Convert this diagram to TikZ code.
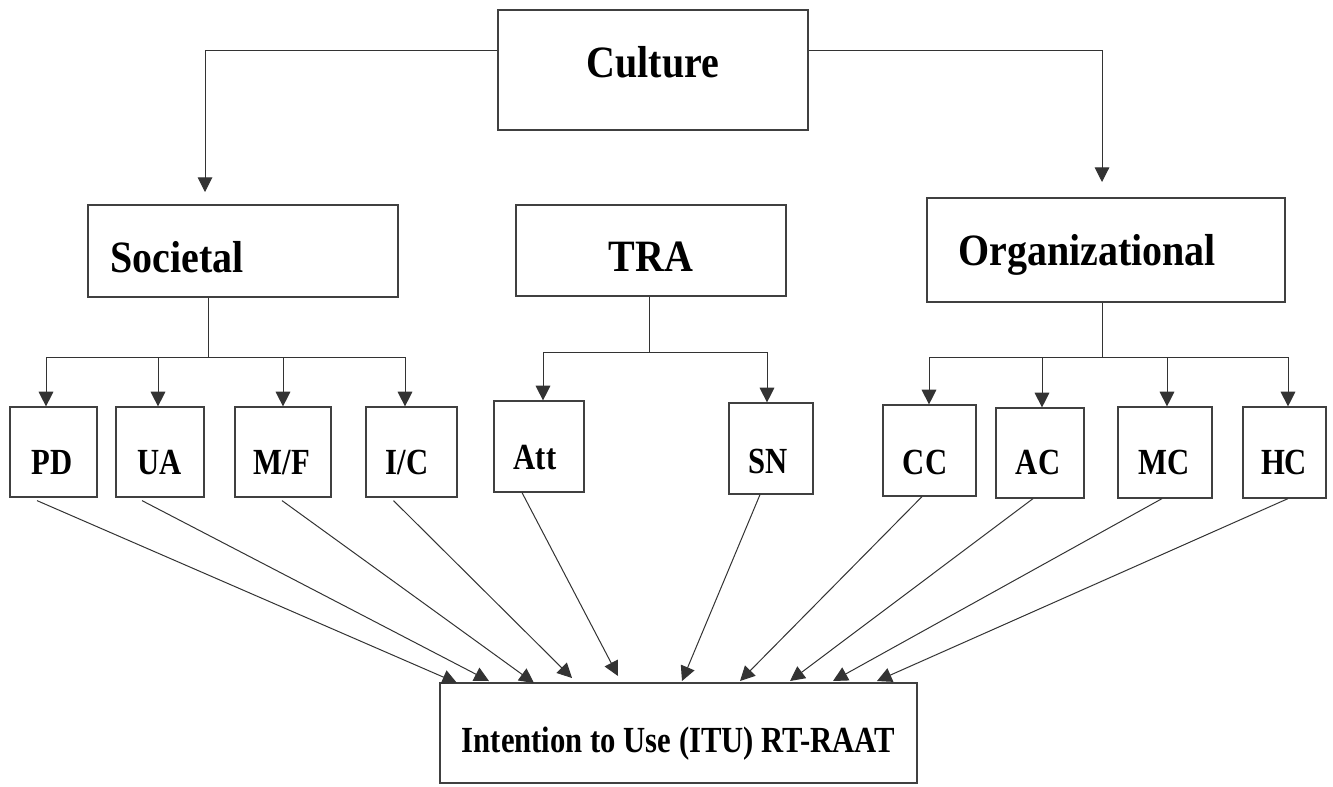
\documentclass[tikz,border=0pt]{standalone}
\usepackage{fontspec}
\setmainfont{Liberation Serif}
\usetikzlibrary{arrows.meta,fit,calc}
\newcommand{\tallbig}[1]{\scalebox{1}[1.12]{#1}}
\newcommand{\tallsmall}[1]{\scalebox{1}[1.2]{#1}}
\begin{document}
\begin{tikzpicture}[x=0.75pt,y=-0.75pt,
  framebox/.style={draw=black!75, line width=0.9pt, inner sep=0pt},
  big/.style={font=\fontsize{30}{36}\selectfont\bfseries, inner sep=0pt},
  small/.style={font=\fontsize{23}{28}\selectfont\bfseries, inner sep=0pt, anchor=base},
  link/.style={draw=black!80, line width=0.75pt},
  arr/.style={link, -{Triangle[length=11pt,width=11pt]}},
]
\useasboundingbox (0,0) rectangle (1333,786);

% boxes
\node[framebox, fit={(498,10) (808,130)}]    (culture) {};
\node[framebox, fit={(88,205) (398,297)}]    (societal) {};
\node[framebox, fit={(516,205) (786,296)}]   (tra) {};
\node[framebox, fit={(927,198) (1285,302)}]  (org) {};
\node[framebox, fit={(10,407) (97,497)}]     (pd) {};
\node[framebox, fit={(116,407) (204,497)}]   (ua) {};
\node[framebox, fit={(235,407) (331,497)}]   (mf) {};
\node[framebox, fit={(366,407) (457,497)}]   (ic) {};
\node[framebox, fit={(494,401) (584,492)}]   (att) {};
\node[framebox, fit={(729,403) (813,494)}]   (sn) {};
\node[framebox, fit={(883,405) (976,496)}]   (cc) {};
\node[framebox, fit={(996,408) (1084,498)}]  (ac) {};
\node[framebox, fit={(1118,407) (1212,498)}] (mc) {};
\node[framebox, fit={(1243,407) (1326,498)}] (hc) {};
\node[framebox, fit={(440,683) (917,783)}]   (itu) {};

% labels
\node[big, anchor=base] (culture-t) at (653,77) {\tallbig{Culture}};
\node[big, anchor=base west] (societal-t) at (110,272) {\tallbig{Societal}};
\node[big, anchor=base] (tra-t) at (651,271) {\tallbig{TRA}};
\node[big, anchor=base west] (org-t) at (958,265) {\tallbig{Organizational}};
\node[small] (pd-t) at (52,474) {\tallsmall{PD}};
\node[small] (ua-t) at (160,474) {\tallsmall{UA}};
\node[small] (mf-t) at (282,474) {\tallsmall{M/F}};
\node[small] (ic-t) at (407,474) {\tallsmall{I/C}};
\node[small] (att-t) at (535,469) {\tallsmall{Att}};
\node[small] (sn-t) at (768,473) {\tallsmall{SN}};
\node[small] (cc-t) at (925,474) {\tallsmall{CC}};
\node[small] (ac-t) at (1038,474) {\tallsmall{AC}};
\node[small] (mc-t) at (1164,474) {\tallsmall{MC}};
\node[small] (hc-t) at (1284,474) {\tallsmall{HC}};
\node[small] (itu-t) at (678.5,752) {\tallsmall{Intention to Use (ITU) RT-RAAT}};

% culture splits into the two levels
\coordinate (soc-in) at (205,192);
\coordinate (org-in) at (1102,182);
\draw[arr] ($(culture.west)+(0,-20)$) -| (soc-in);
\draw[arr] ($(culture.east)+(0,-20)$) -| (org-in);

% societal dimensions
\coordinate (sb) at (208,357);
\coordinate (sb1) at (46,357);
\coordinate (sb2) at (158,357);
\coordinate (sb3) at (283,357);
\coordinate (sb4) at (405,357);
\draw[link] ($(societal.south)+(-35,0)$) -- (sb);
\draw[link] (sb1) -- (sb4);
\draw[arr] (sb1) -- (sb1 |- pd.north);
\draw[arr] (sb2) -- (sb2 |- ua.north);
\draw[arr] (sb3) -- (sb3 |- mf.north);
\draw[arr] (sb4) -- (sb4 |- ic.north);

% TRA constructs
\coordinate (tb) at (649,352);
\coordinate (tb1) at (543,352);
\coordinate (tb2) at (767,352);
\draw[link] ($(tra.south)+(-2,0)$) -- (tb);
\draw[link] (tb1) -- (tb2);
\draw[arr] (tb1) -- (tb1 |- att.north);
\draw[arr] (tb2) -- (tb2 |- sn.north);

% organizational dimensions
\coordinate (ob) at (1102,357);
\coordinate (ob1) at (929,357);
\coordinate (ob2) at (1042,357);
\coordinate (ob3) at (1167,357);
\coordinate (ob4) at (1288,357);
\draw[link] ($(org.south)+(-4,0)$) -- (ob);
\draw[link] (ob1) -- (ob4);
\draw[arr] (ob1) -- (ob1 |- cc.north);
\draw[arr] (ob2) -- (ob2 |- ac.north);
\draw[arr] (ob3) -- (ob3 |- mc.north);
\draw[arr] (ob4) -- (ob4 |- hc.north);

% everything feeds the intention to use
\coordinate (i1) at (457,683);
\coordinate (i2) at (489,681);
\coordinate (i3) at (534,683);
\coordinate (i4) at (572,678);
\coordinate (i5) at (618,676);
\coordinate (i6) at (682,681);
\coordinate (i7) at (740,681);
\coordinate (i8) at (790,681);
\coordinate (i9) at (833,681);
\coordinate (i10) at (877,681);
\draw[arr] ($(pd.south)+(-16.5,3)$) -- (i1);
\draw[arr] ($(ua.south)+(-18,3)$) -- (i2);
\draw[arr] ($(mf.south)+(-1,3)$) -- (i3);
\draw[arr] ($(ic.south)+(-18,3)$) -- (i4);
\draw[arr] ($(att.south)+(-17,0)$) -- (i5);
\draw[arr] ($(sn.south)+(-11,0)$) -- (i6);
\draw[arr] ($(cc.south)+(-7.5,0)$) -- (i7);
\draw[arr] ($(ac.south)+(-7,0)$) -- (i8);
\draw[arr] ($(mc.south)+(-3,0)$) -- (i9);
\draw[arr] ($(hc.south)+(3.5,0)$) -- (i10);
\end{tikzpicture}
\end{document}
